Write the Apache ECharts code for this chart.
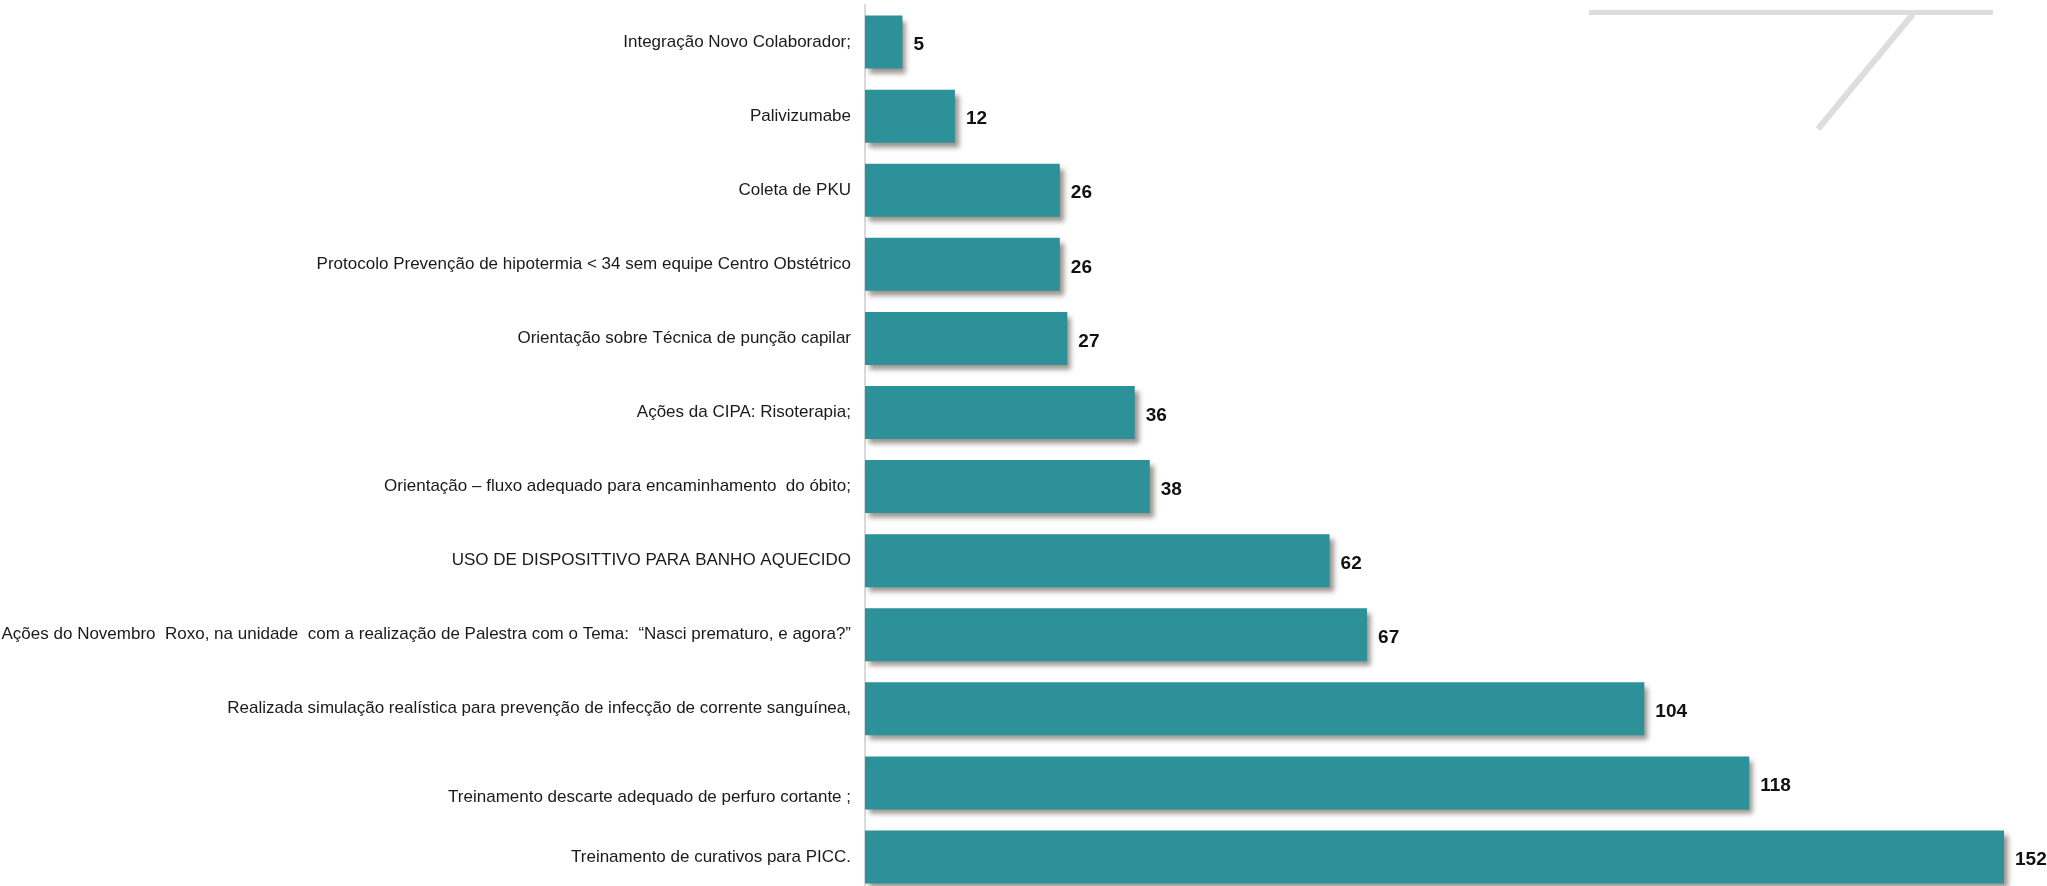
<!DOCTYPE html>
<html>
<head>
<meta charset="utf-8">
<script src="https://cdn.jsdelivr.net/npm/echarts@6/dist/echarts.min.js"></script>
<style>
  html, body { margin: 0; padding: 0; background: #ffffff; }
  #chart { width: 2047px; height: 886px; }
</style>
</head>
<body>
<div id="chart"></div>
<script>
const categories = [
  "Integração Novo Colaborador;",
  "Palivizumabe",
  "Coleta de PKU",
  "Protocolo Prevenção de hipotermia < 34 sem equipe Centro Obstétrico",
  "Orientação sobre Técnica de punção capilar",
  "Ações da CIPA: Risoterapia;",
  "Orientação – fluxo adequado para encaminhamento  do óbito;",
  "USO DE DISPOSITTIVO PARA BANHO AQUECIDO",
  "Ações do Novembro  Roxo, na unidade  com a realização de Palestra com o Tema:  “Nasci prematuro, e agora?”",
  "Realizada simulação realística para prevenção de infecção de corrente sanguínea,",
  "Treinamento descarte adequado de perfuro cortante ;",
  "Treinamento de curativos para PICC."
];
const values = [5, 12, 26, 26, 27, 36, 38, 62, 67, 104, 118, 152];
const loweredLabels = ["Treinamento descarte adequado de perfuro cortante ;"];

const chart = echarts.init(document.getElementById('chart'), null, { renderer: 'canvas' });
const font = "'Liberation Sans', Arial, sans-serif";

chart.setOption({
  animation: false,
  backgroundColor: '#ffffff',
  grid: {
    left: 865, top: 5, height: 889, width: 1139,
    containLabel: false, outerBoundsMode: 'none'
  },
  xAxis: {
    type: 'value', min: 0, max: 152, show: false,
    splitLine: { show: false }
  },
  yAxis: {
    type: 'category', data: categories, inverse: true,
    axisLine: { show: true, lineStyle: { color: '#dadada', width: 2 } },
    axisTick: { show: false },
    axisLabel: {
      margin: 14, color: '#1a1a1a', fontSize: 17, fontFamily: font,
      formatter: function (v) {
        return loweredLabels.indexOf(v) >= 0 ? '{low|' + v + '}' : v;
      },
      rich: {
        low: { padding: [28, 0, 0, 0], fontSize: 17, fontFamily: font, color: '#1a1a1a' }
      }
    }
  },
  graphic: [
    { type: 'line', shape: { x1: 1589, y1: 12.5, x2: 1993, y2: 12.5 },
      style: { stroke: '#dddddd', lineWidth: 5 } },
    { type: 'line', shape: { x1: 1913, y1: 14, x2: 1818, y2: 129 },
      style: { stroke: '#dddddd', lineWidth: 6 } }
  ],
  series: [{
    type: 'bar', data: values, barWidth: 53,
    itemStyle: {
      color: '#2d9199',
      shadowColor: 'rgba(70,60,50,0.55)', shadowBlur: 5,
      shadowOffsetX: 4, shadowOffsetY: 5
    },
    label: {
      show: true, position: 'right', distance: 11,
      color: '#111111', fontSize: 19, fontWeight: 'bold', fontFamily: font,
      offset: [0, 3]
    }
  }]
});
</script>
</body>
</html>
